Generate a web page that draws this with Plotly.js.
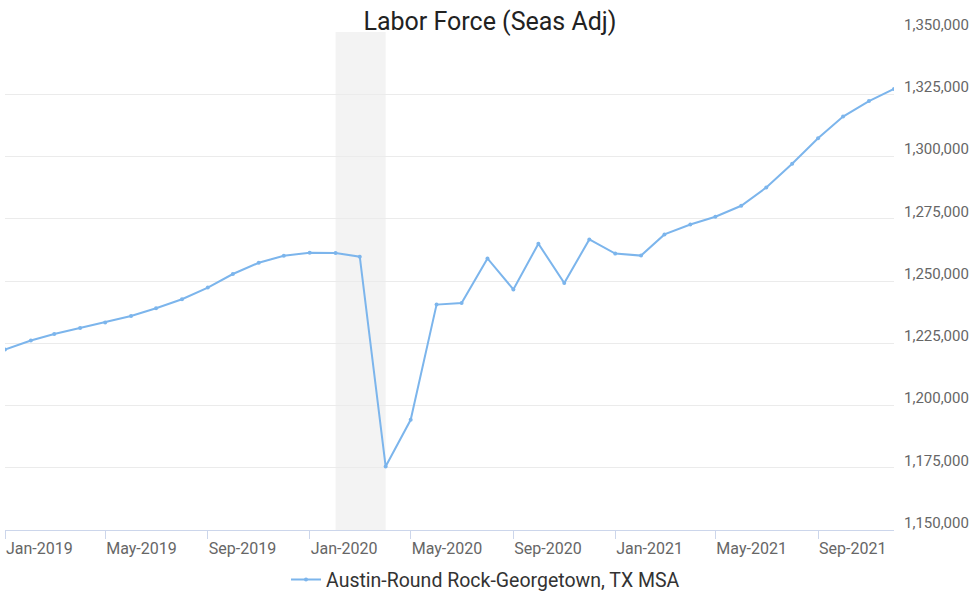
<!DOCTYPE html>
<html>
<head>
<meta charset="utf-8">
<script src="https://cdn.plot.ly/plotly-3.0.1.min.js"></script>
<style>html,body{margin:0;padding:0;background:#fff;}#chart{width:980px;height:593px;}</style>
</head>
<body>
<div id="chart"></div>
<script>
const months = [
  "2019-01-01","2019-02-01","2019-03-01","2019-04-01","2019-05-01","2019-06-01",
  "2019-07-01","2019-08-01","2019-09-01","2019-10-01","2019-11-01","2019-12-01",
  "2020-01-01","2020-02-01","2020-03-01","2020-04-01","2020-05-01","2020-06-01",
  "2020-07-01","2020-08-01","2020-09-01","2020-10-01","2020-11-01","2020-12-01",
  "2021-01-01","2021-02-01","2021-03-01","2021-04-01","2021-05-01","2021-06-01",
  "2021-07-01","2021-08-01","2021-09-01","2021-10-01","2021-11-01","2021-12-01"
];
const laborForce = [
  1222470,1226080,1228730,1231140,1233300,1235950,
  1239040,1242660,1247350,1252810,1257340,1260150,
  1261360,1261240,1259750,1175520,1194260,1240530,
  1241170,1259070,1246630,1264970,1249200,1266690,
  1261000,1260200,1268700,1272710,1275800,1280220,
  1287560,1297070,1307340,1316030,1322270,1327130
];
const seriesName = "Austin-Round Rock-Georgetown, TX MSA";
const recessionStart = "2020-02-01";
const recessionEnd = "2020-04-01";
const chartTitle = "Labor Force (Seas Adj)";

const trace = {
  x: months, y: laborForce, name: seriesName,
  type: "scatter", mode: "lines+markers",
  line: {color: "#7cb5ec", width: 2},
  marker: {color: "#7cb5ec", size: 4},
  showlegend: true
};

const layout = {
  width: 980, height: 593,
  margin: {l: 5, r: 86, t: 32, b: 63, autoexpand: false},
  paper_bgcolor: "#fff", plot_bgcolor: "#fff",
  font: {family: "Roboto, sans-serif", color: "#666"},
  title: {text: chartTitle, x: 0.5, xref: "container", xanchor: "center",
          y: 1 - 21/593, yref: "container", yanchor: "middle",
          font: {size: 25, color: "#222", family: "Roboto, sans-serif"}},
  xaxis: {
    type: "date", range: ["2019-01-01", "2021-12-01"],
    tick0: "2019-01-01", dtick: "M4", tickformat: "%b-%Y", tickangle: 0,
    ticks: "outside", ticklen: 8, tickcolor: "#ccd6eb", tickwidth: 1,
    ticklabelposition: "outside right", ticklabelstandoff: 4, automargin: false,
    showline: true, linecolor: "#ccd6eb", linewidth: 1,
    showgrid: false, zeroline: false,
    tickfont: {size: 16, color: "#666"}
  },
  yaxis: {
    side: "right", range: [1150000, 1350000], dtick: 25000, tick0: 1150000,
    tickformat: ",", gridcolor: "#ebebeb", gridwidth: 1, automargin: false,
    zeroline: false, showline: false, ticks: "",
    ticklabelposition: "outside top", ticklabelstandoff: 9, ticklabelshift: 3,
    tickfont: {size: 15, color: "#666"}
  },
  shapes: [{
    type: "rect", xref: "x", yref: "paper",
    x0: recessionStart, x1: recessionEnd, y0: 0, y1: 1,
    fillcolor: "#f3f3f3", line: {width: 0}, layer: "below"
  }],
  legend: {orientation: "h", x: 0.3161, xanchor: "left",
           y: -0.1, yanchor: "middle", itemwidth: 30,
           font: {size: 19.5, color: "#333"}},
  hovermode: false
};

Plotly.newPlot("chart", [trace], layout, {displayModeBar: false, staticPlot: true});
</script>
</body>
</html>
